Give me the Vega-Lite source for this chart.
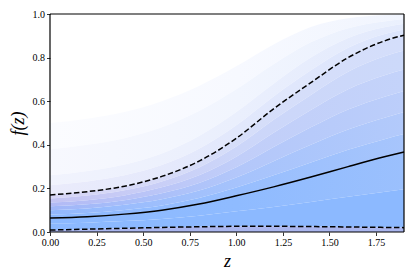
{
  "$schema": "https://vega.github.io/schema/vega-lite/v6.json",
  "width": 354,
  "height": 218,
  "autosize": {"type": "none"},
  "padding": {"left": 50, "top": 14, "right": 11, "bottom": 45},
  "background": "white",
  "config": {
    "view": {"stroke": null},
    "axis": {
      "labelFont": "Times New Roman, Liberation Serif, serif", "labelFontSize": 10, "labelColor": "black",
      "tickColor": "black", "tickSize": 3.5, "tickWidth": 0.8, "domain": false, "grid": false,
      "labelPadding": 2, "labelFlush": false, "titleFont": "Times New Roman, Liberation Serif, serif", "titleFontStyle": "italic",
      "titleFontWeight": "normal", "titleFontSize": 18, "titleColor": "black"
    }
  },
  "data": {"values": [
    {"z": 0.0, "lo": 0.009, "q25": 0.040, "med": 0.064, "q60": 0.080, "q75": 0.100, "q83": 0.118, "q90": 0.135, "q95": 0.154, "hi": 0.170, "q99": 0.215, "q995": 0.26, "q999": 0.38, "mx": 0.50},
    {"z": 0.2, "lo": 0.013, "q25": 0.043, "med": 0.070, "q60": 0.087, "q75": 0.108, "q83": 0.127, "q90": 0.146, "q95": 0.167, "hi": 0.185, "q99": 0.232, "q995": 0.28, "q999": 0.40, "mx": 0.52},
    {"z": 0.4, "lo": 0.017, "q25": 0.050, "med": 0.082, "q60": 0.101, "q75": 0.125, "q83": 0.146, "q90": 0.168, "q95": 0.191, "hi": 0.210, "q99": 0.260, "q995": 0.31, "q999": 0.43, "mx": 0.55},
    {"z": 0.6, "lo": 0.021, "q25": 0.060, "med": 0.100, "q60": 0.122, "q75": 0.150, "q83": 0.178, "q90": 0.205, "q95": 0.232, "hi": 0.255, "q99": 0.307, "q995": 0.36, "q999": 0.48, "mx": 0.60},
    {"z": 0.8, "lo": 0.024, "q25": 0.075, "med": 0.128, "q60": 0.156, "q75": 0.190, "q83": 0.225, "q90": 0.260, "q95": 0.296, "hi": 0.325, "q99": 0.382, "q995": 0.44, "q999": 0.555, "mx": 0.67},
    {"z": 1.0, "lo": 0.026, "q25": 0.095, "med": 0.166, "q60": 0.204, "q75": 0.250, "q83": 0.297, "q90": 0.345, "q95": 0.392, "hi": 0.430, "q99": 0.490, "q995": 0.55, "q999": 0.655, "mx": 0.76},
    {"z": 1.2, "lo": 0.026, "q25": 0.115, "med": 0.207, "q60": 0.260, "q75": 0.325, "q83": 0.390, "q90": 0.455, "q95": 0.515, "hi": 0.565, "q99": 0.622, "q995": 0.68, "q999": 0.77, "mx": 0.86},
    {"z": 1.4, "lo": 0.025, "q25": 0.138, "med": 0.252, "q60": 0.319, "q75": 0.400, "q83": 0.480, "q90": 0.560, "q95": 0.629, "hi": 0.685, "q99": 0.742, "q995": 0.80, "q999": 0.87, "mx": 0.94},
    {"z": 1.6, "lo": 0.023, "q25": 0.162, "med": 0.300, "q60": 0.377, "q75": 0.470, "q83": 0.562, "q90": 0.655, "q95": 0.735, "hi": 0.800, "q99": 0.845, "q995": 0.89, "q999": 0.935, "mx": 0.98},
    {"z": 1.8, "lo": 0.021, "q25": 0.185, "med": 0.346, "q60": 0.427, "q75": 0.525, "q83": 0.622, "q90": 0.720, "q95": 0.807, "hi": 0.878, "q99": 0.909, "q995": 0.94, "q999": 0.967, "mx": 0.995},
    {"z": 1.9, "lo": 0.020, "q25": 0.196, "med": 0.367, "q60": 0.449, "q75": 0.550, "q83": 0.647, "q90": 0.745, "q95": 0.832, "hi": 0.903, "q99": 0.929, "q995": 0.955, "q999": 0.977, "mx": 1.0}
  ]},
  "layer": [
    {
      "encoding": {
        "x": {"field": "z", "type": "quantitative",
          "scale": {"domain": [0, 1.9], "nice": false, "zero": false},
          "axis": {"values": [0, 0.25, 0.5, 0.75, 1.0, 1.25, 1.5, 1.75], "format": ".2f", "title": "z", "titlePadding": 5}}
      },
      "layer": [
        {"mark": {"type": "area", "interpolate": "monotone", "color": {"gradient": "linear", "x1": 0, "y1": 0, "x2": 1, "y2": 0, "stops": [{"offset": 0, "color": "#fbfcff"}, {"offset": 0.53, "color": "#f7f9ff"}, {"offset": 1, "color": "#f1f5fe"}]}},
         "encoding": {"y": {"field": "mx", "type": "quantitative", "scale": {"domain": [0, 1], "nice": false},
           "axis": {"values": [0, 0.2, 0.4, 0.6, 0.8, 1.0], "format": ".1f", "title": "f(z)", "titlePadding": 5}},
           "y2": {"field": "q999"}}},
        {"mark": {"type": "area", "interpolate": "monotone", "color": {"gradient": "linear", "x1": 0, "y1": 0, "x2": 1, "y2": 0, "stops": [{"offset": 0, "color": "#f7f8fe"}, {"offset": 0.53, "color": "#f1f5fe"}, {"offset": 1, "color": "#eaf0fd"}]}},
         "encoding": {"y": {"field": "q999", "type": "quantitative", "title": "f(z)"}, "y2": {"field": "q995"}}},
        {"mark": {"type": "area", "interpolate": "monotone", "color": {"gradient": "linear", "x1": 0, "y1": 0, "x2": 1, "y2": 0, "stops": [{"offset": 0, "color": "#f1f3fd"}, {"offset": 0.53, "color": "#eaeffd"}, {"offset": 1, "color": "#e3eafc"}]}},
         "encoding": {"y": {"field": "q995", "type": "quantitative", "title": "f(z)"}, "y2": {"field": "q99"}}},
        {"mark": {"type": "area", "interpolate": "monotone", "color": {"gradient": "linear", "x1": 0, "y1": 0, "x2": 1, "y2": 0, "stops": [{"offset": 0, "color": "#eaebfb"}, {"offset": 0.53, "color": "#e2e8fc"}, {"offset": 1, "color": "#dce5fc"}]}},
         "encoding": {"y": {"field": "q99", "type": "quantitative", "title": "f(z)"}, "y2": {"field": "hi"}}},
        {"mark": {"type": "area", "interpolate": "monotone", "color": {"gradient": "linear", "x1": 0, "y1": 0, "x2": 1, "y2": 0, "stops": [{"offset": 0, "color": "#d6d5f6"}, {"offset": 0.53, "color": "#d6def9"}, {"offset": 1, "color": "#d4defb"}]}},
         "encoding": {"y": {"field": "hi", "type": "quantitative", "title": "f(z)"}, "y2": {"field": "q95"}}},
        {"mark": {"type": "area", "interpolate": "monotone", "color": {"gradient": "linear", "x1": 0, "y1": 0, "x2": 1, "y2": 0, "stops": [{"offset": 0, "color": "#c4c4f3"}, {"offset": 0.53, "color": "#ccd6f9"}, {"offset": 1, "color": "#ccd9fa"}]}},
         "encoding": {"y": {"field": "q95", "type": "quantitative", "title": "f(z)"}, "y2": {"field": "q90"}}},
        {"mark": {"type": "area", "interpolate": "monotone", "color": {"gradient": "linear", "x1": 0, "y1": 0, "x2": 1, "y2": 0, "stops": [{"offset": 0, "color": "#b2baf5"}, {"offset": 0.53, "color": "#c1cef9"}, {"offset": 1, "color": "#c4d3fa"}]}},
         "encoding": {"y": {"field": "q90", "type": "quantitative", "title": "f(z)"}, "y2": {"field": "q83"}}},
        {"mark": {"type": "area", "interpolate": "monotone", "color": {"gradient": "linear", "x1": 0, "y1": 0, "x2": 1, "y2": 0, "stops": [{"offset": 0, "color": "#a0b6f8"}, {"offset": 0.53, "color": "#b3c7fa"}, {"offset": 1, "color": "#bccefa"}]}},
         "encoding": {"y": {"field": "q83", "type": "quantitative", "title": "f(z)"}, "y2": {"field": "q75"}}},
        {"mark": {"type": "area", "interpolate": "monotone", "color": {"gradient": "linear", "x1": 0, "y1": 0, "x2": 1, "y2": 0, "stops": [{"offset": 0, "color": "#92b8fd"}, {"offset": 0.53, "color": "#a6c3fc"}, {"offset": 1, "color": "#b3cafb"}]}},
         "encoding": {"y": {"field": "q75", "type": "quantitative", "title": "f(z)"}, "y2": {"field": "q60"}}},
        {"mark": {"type": "area", "interpolate": "monotone", "color": {"gradient": "linear", "x1": 0, "y1": 0, "x2": 1, "y2": 0, "stops": [{"offset": 0, "color": "#8db9ff"}, {"offset": 0.53, "color": "#97befe"}, {"offset": 1, "color": "#a7c5fc"}]}},
         "encoding": {"y": {"field": "q60", "type": "quantitative", "title": "f(z)"}, "y2": {"field": "med"}}},
        {"mark": {"type": "area", "interpolate": "monotone", "color": {"gradient": "linear", "x1": 0, "y1": 0, "x2": 1, "y2": 0, "stops": [{"offset": 0, "color": "#8cb9ff"}, {"offset": 0.53, "color": "#8fbbff"}, {"offset": 1, "color": "#9bc0fd"}]}},
         "encoding": {"y": {"field": "med", "type": "quantitative", "title": "f(z)"}, "y2": {"field": "q25"}}},
        {"mark": {"type": "area", "interpolate": "monotone", "color": "#8cb9ff"},
         "encoding": {"y": {"field": "q25", "type": "quantitative", "title": "f(z)"}, "y2": {"field": "lo"}}},
        {"mark": {"type": "area", "interpolate": "monotone", "color": "#aab6ee"},
         "encoding": {"y": {"field": "lo", "type": "quantitative", "title": "f(z)"}}},
        {"mark": {"type": "line", "interpolate": "monotone", "color": "black", "strokeWidth": 1.5},
         "encoding": {"y": {"field": "med", "type": "quantitative", "title": "f(z)"}}},
        {"mark": {"type": "line", "interpolate": "monotone", "color": "black", "strokeWidth": 1.5, "strokeDash": [5.5, 2.5]},
         "encoding": {"y": {"field": "hi", "type": "quantitative", "title": "f(z)"}}},
        {"mark": {"type": "line", "interpolate": "monotone", "color": "black", "strokeWidth": 1.5, "strokeDash": [5.5, 2.5]},
         "encoding": {"y": {"field": "lo", "type": "quantitative", "title": "f(z)"}}}
      ]
    },
    {"data": {"values": [{"v": 0}, {"v": 1.9}]}, "mark": {"type": "rule", "color": "black", "strokeWidth": 1.2},
     "encoding": {"x": {"field": "v", "type": "quantitative"}}},
    {"data": {"values": [{"w": 0}, {"w": 1}]}, "mark": {"type": "rule", "color": "black", "strokeWidth": 1.2},
     "encoding": {"y": {"field": "w", "type": "quantitative"}}}
  ]
}
